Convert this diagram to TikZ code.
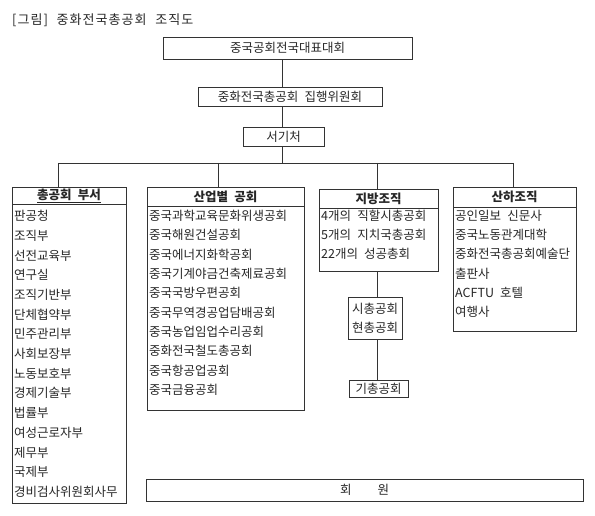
\documentclass[tikz,border=0pt]{standalone}
\usepackage{fontspec}
\setmainfont{Noto Sans CJK KR}[WordSpace=2.2]
\usetikzlibrary{calc}

\begin{document}
\begin{tikzpicture}[x=1pt, y=-1pt, font=\fontsize{12.5}{19}\selectfont, text=black!85,
    box/.style={draw=black!80, line width=0.8pt, inner sep=0pt},
    head/.style={box, font=\fontsize{12.5}{14}\selectfont\bfseries},
    item/.style={anchor=west, inner sep=0pt},
    line/.style={draw=black!80, line width=0.8pt}]
    \useasboundingbox (0,0) rectangle (595,516);
    \node[anchor=west, inner sep=0pt, font=\fontsize{13}{15}\selectfont\addfontfeature{LetterSpace=8}] (title) at (12,20) {[그림] 중화전국총공회 조직도};
    % upper chain
    \node[box, minimum width=249pt, minimum height=22pt] (cong) at (287.5,48) {중국공회전국대표대회};
    \node[box, minimum width=184pt, minimum height=19pt] (exec) at (290,96.5) {중화전국총공회 집행위원회};
    \node[box, minimum width=81pt, minimum height=19pt] (sec) at (283.5,136.5) {서기처};
    % four branches
    \node[head, minimum width=114pt, minimum height=17pt] (hq) at (69,195.5) {\underline{총공회 부서}};
    \node[box, minimum width=114pt, minimum height=299pt] (hqb) at (69,353.5) {};
    \node[head, minimum width=157pt, minimum height=19pt] (ind) at (225.5,196.5) {산업별 공회};
    \node[box, minimum width=157pt, minimum height=204pt] (indb) at (225.5,308) {};
    \node[head, minimum width=119pt, minimum height=19pt] (loc) at (378.5,198.5) {지방조직};
    \node[box, minimum width=119pt, minimum height=63pt] (locb) at (378.5,239.5) {};
    \node[head, minimum width=123pt, minimum height=20pt] (sub) at (514.5,197) {산하조직};
    \node[box, minimum width=123pt, minimum height=124pt] (subb) at (514.5,269) {};
    \foreach \t [count=\i from 0] in {판공청,조직부,선전교육부,연구실,조직기반부,단체협약부,민주관리부,사회보장부,노동보호부,경제기술부,법률부,여성근로자부,제무부,국제부,경비검사위원회사무}
        \node[item] (hq\i) at (14,{216+19.7*\i}) {\t};
    \foreach \t [count=\i from 0] in {중국과학교육문화위생공회,중국해원건설공회,중국에너지화학공회,중국기계야금건축제료공회,중국국방우편공회,중국무역경공업담배공회,중국농업임업수리공회,중화전국철도총공회,중국항공업공회,중국금융공회}
        \node[item] (ind\i) at (149,{216+19.3*\i}) {\t};
    \foreach \t [count=\i from 0] in {4개의 직할시총공회,5개의 지치국총공회,22개의 성공총회}
        \node[item] (loc\i) at (321,{216+19*\i}) {\t};
    \foreach \t [count=\i from 0] in {공인일보 신문사,중국노동관계대학,중화전국총공회예술단,출판사,ACFTU 호텔,여행사}
        \node[item] (sub\i) at (455,{216+19.1*\i}) {\t};
    % local levels
    \node[box, minimum width=54pt, minimum height=42pt, align=left] (city) at (375,318) {시총공회\\현총공회};
    \node[box, minimum width=59pt, minimum height=17pt] (base) at (378.5,388.5) {기총공회};
    \node[box, minimum width=437pt, minimum height=22pt] (mem) at (364.5,490) {회\hspace{26pt}원};
    % connectors
    \coordinate (trunk) at (282,163);
    \coordinate (bl) at (58,163);
    \coordinate (bi) at (218,163);
    \coordinate (br) at (377,163);
    \coordinate (bs) at (513,163);
    \draw[line] (cong.south -| trunk) -- (exec.north -| trunk);
    \draw[line] (exec.south -| trunk) -- (sec.north -| trunk);
    \draw[line] (sec.south -| trunk) -- (trunk);
    \draw[line] (bl) -- (bs);
    \draw[line] (bl) -- (bl |- hq.north);
    \draw[line] (bi) -- (bi |- ind.north);
    \draw[line] (br) -- (br |- loc.north);
    \draw[line] (bs) -- (bs |- sub.north);
    \draw[line] (locb.south -| br) -- (city.north -| br);
    \draw[line] (city.south -| br) -- (base.north -| br);
\end{tikzpicture}
\end{document}
